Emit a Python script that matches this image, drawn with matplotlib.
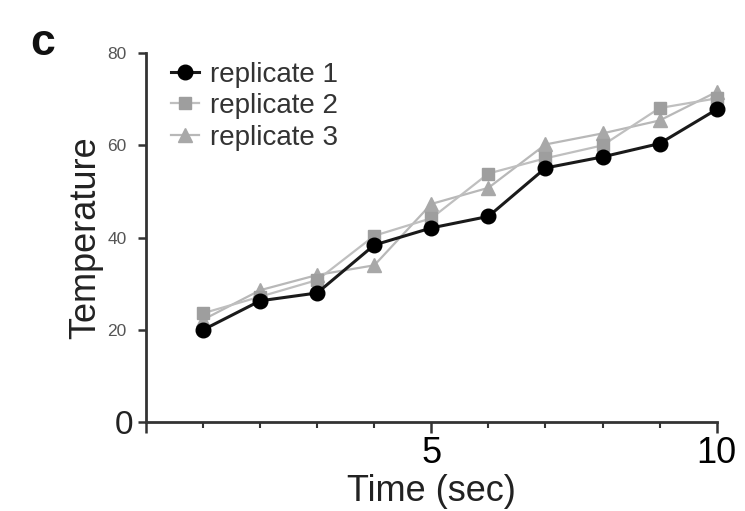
import matplotlib
matplotlib.use("Agg")
import matplotlib.pyplot as plt
from matplotlib.ticker import MultipleLocator

plt.rcParams['font.family'] = ['Liberation Sans', 'DejaVu Sans']

# Temperature readings over time for three replicates
time_sec = [1, 2, 3, 4, 5, 6, 7, 8, 9, 10]
replicate_1 = [20.0, 26.3, 28.0, 38.4, 42.1, 44.6, 55.1, 57.5, 60.4, 67.8]
replicate_2 = [23.6, 27.2, 30.8, 40.4, 44.2, 53.9, 57.2, 60.0, 68.1, 70.2]
replicate_3 = [22.2, 28.6, 31.9, 34.0, 47.3, 50.8, 60.2, 62.6, 65.4, 71.6]
series_labels = ["replicate 1", "replicate 2", "replicate 3"]
x_ticks = [0, 5, 10]
x_tick_labels = ["", "5", "10"]
y_ticks = [0, 20, 40, 60, 80]
y_tick_labels = ["0", "20", "40", "60", "80"]

fig = plt.figure(figsize=(7.45, 5.11), dpi=100)
ax = fig.add_axes([0.196, 0.174, 0.766, 0.722])

ax.plot(time_sec, replicate_3, color="#b8b8b8", lw=1.6, marker="^", ms=10,
        mfc="#a8a8a8", mec="#a8a8a8", label=series_labels[2], clip_on=False, zorder=3)
ax.plot(time_sec, replicate_2, color="#bfbfbf", lw=1.6, marker="s", ms=9,
        mfc="#9e9e9e", mec="#9e9e9e", label=series_labels[1], clip_on=False, zorder=4)
ax.plot(time_sec, replicate_1, color="#1a1a1a", lw=2.2, marker="o", ms=10.5,
        mfc="black", mec="black", label=series_labels[0], clip_on=False, zorder=5)

ax.set_xlim(0, 10)
ax.set_ylim(0, 80)

for side in ("top", "right"):
    ax.spines[side].set_visible(False)
for side in ("left", "bottom"):
    ax.spines[side].set_linewidth(2.0)
    ax.spines[side].set_color("#333333")

ax.set_xticks(x_ticks)
ax.set_xticklabels(x_tick_labels, fontsize=26)
ax.xaxis.set_minor_locator(MultipleLocator(1))
ax.tick_params(axis="x", which="major", length=8, width=1.8, color="#333333", pad=2)
ax.tick_params(axis="x", which="minor", length=4, width=1.5, color="#333333")

ax.set_yticks(y_ticks)
ax.set_yticklabels(y_tick_labels)
ax.tick_params(axis="y", which="major", length=6, width=1.8, color="#333333", pad=3)
for lab in ax.get_yticklabels():
    if lab.get_text() == "0":
        lab.set_fontsize(24)
        lab.set_color("#222222")
    else:
        lab.set_fontsize(12.5)
        lab.set_color("#555555")
        lab.set_x(-0.012)

ax.set_xlabel("Time (sec)", fontsize=26, labelpad=2, color="#222222")
ax.set_ylabel("Temperature", fontsize=26, labelpad=3, color="#222222")

handles, labels = ax.get_legend_handles_labels()
order = [2, 1, 0]
ax.legend([handles[i] for i in order], [labels[i] for i in order],
          loc="upper left", bbox_to_anchor=(0.0, 1.045), frameon=False,
          fontsize=20, handlelength=1.0, handletextpad=0.4, labelspacing=0.2,
          labelcolor="#333333")

fig.text(0.040, 0.893, "c", fontsize=32, fontweight="bold", color="#111111")

fig.savefig("out.png", dpi=100)
